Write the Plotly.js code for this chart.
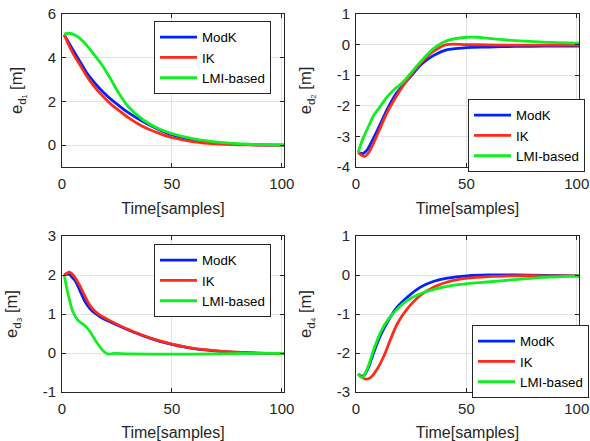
<!DOCTYPE html>
<html>
<head>
<meta charset="utf-8">
<script src="https://cdn.plot.ly/plotly-3.0.1.min.js"></script>
<style>
html,body{margin:0;padding:0;background:#fff;}
#chart{width:590px;height:441px;}
</style>
</head>
<body>
<div id="chart"></div>
<script>
// ---------- data ----------
const seriesNames = ["ModK", "IK", "LMI-based"];

// subplot 1 : e_d1
const t1_modk = [1,3,5,8,11,14,18,22,26,30,37,44,50,60,72,85,101];
const e1_modk = [5.05,4.7,4.35,3.85,3.35,2.95,2.5,2.12,1.8,1.5,1.07,0.72,0.48,0.24,0.08,0.02,0.0];
const t1_ik   = [1,3,5,8,11,14,18,22,26,30,37,44,50,60,72,85,101];
const e1_ik   = [5.05,4.6,4.2,3.7,3.2,2.77,2.3,1.9,1.58,1.27,0.84,0.55,0.35,0.15,0.05,0.01,0.0];
const t1_lmi  = [1,3,5,8,11,14,18,22,26,30,37,44,50,60,72,85,101];
const e1_lmi  = [5.08,5.12,5.08,4.9,4.6,4.22,3.7,3.05,2.35,1.78,1.15,0.75,0.53,0.29,0.13,0.04,0.0];

// subplot 2 : e_d2
const t2_modk = [1,3,5,8,11,14,18,22,26,30,35,41,50,60,72,85,101];
const e2_modk = [-3.52,-3.56,-3.45,-3.05,-2.6,-2.13,-1.62,-1.27,-0.93,-0.62,-0.36,-0.17,-0.1,-0.08,-0.06,-0.05,-0.05];
const t2_ik   = [1,2.5,4,6,8,11,14,18,22,26,30,35,41,50,60,72,85,101];
const e2_ik   = [-3.52,-3.62,-3.65,-3.5,-3.21,-2.72,-2.23,-1.72,-1.27,-0.88,-0.55,-0.22,0.0,0.0,-0.01,-0.02,-0.02,-0.02];
const t2_lmi  = [1,2,3.6,6,8,11,14,18,21,24,29,35,41,50,55,60,72,85,101];
const e2_lmi  = [-3.52,-3.3,-3.0,-2.62,-2.32,-2.02,-1.72,-1.42,-1.25,-1.0,-0.58,-0.14,0.12,0.24,0.24,0.2,0.13,0.08,0.05];

// subplot 3 : e_d3
const t3_modk = [1,3,4.5,6,8,10.5,12.7,15,17.3,21.8,29.4,37,44.5,50,60,72,85,101];
const e3_modk = [2.0,2.02,1.95,1.85,1.62,1.32,1.14,1.02,0.93,0.8,0.61,0.44,0.3,0.22,0.11,0.04,0.0,-0.01];
const t3_ik   = [1,2,3.6,5,6,8,10.5,12.7,15,17.3,21.8,29.4,37,44.5,50,60,72,85,101];
const e3_ik   = [2.0,2.04,2.07,2.0,1.93,1.74,1.45,1.22,1.07,0.97,0.83,0.62,0.45,0.31,0.23,0.12,0.05,0.01,-0.01];
const t3_lmi  = [1,2.8,5,7.4,10.5,12.7,15.8,18.8,21,23.5,30,50,70,85,101];
const e3_lmi  = [2.0,1.5,1.05,0.83,0.7,0.55,0.27,0.05,-0.03,-0.01,-0.02,-0.03,-0.02,-0.01,-0.01];

// subplot 4 : e_d4
const t4_modk = [1,2.9,4,5.9,8.1,11.1,14.2,18.7,23.2,29.2,35.3,41.3,50.4,60,72,85,101];
const e4_modk = [-2.54,-2.6,-2.55,-2.33,-1.98,-1.55,-1.21,-0.82,-0.57,-0.31,-0.16,-0.08,-0.02,0.0,0.0,-0.01,-0.02];
const t4_ik   = [1,2.5,4.4,6.6,9.6,12.7,15.7,18.7,23.2,29.2,35.3,41.3,50.4,60,72,85,101];
const e4_ik   = [-2.54,-2.62,-2.67,-2.63,-2.41,-2.07,-1.64,-1.25,-0.87,-0.52,-0.31,-0.18,-0.08,-0.04,-0.02,-0.02,-0.02];
const t4_lmi  = [1,2.9,5.1,8.1,11.1,14.2,18.7,23.2,29.2,35.3,41.3,50.4,59.4,71.5,85,101];
const e4_lmi  = [-2.54,-2.63,-2.41,-1.9,-1.47,-1.17,-0.87,-0.65,-0.48,-0.37,-0.29,-0.22,-0.18,-0.12,-0.06,-0.02];

// ticks
const xTickVals = [0,50,100];
const xTickText = ["0","50","100"];
const y1TickVals = [0,2,4,6];       const y1TickText = ["0","2","4","6"];
const y2TickVals = [-4,-3,-2,-1,0,1]; const y2TickText = ["-4","-3","-2","-1","0","1"];
const y3TickVals = [-1,0,1,2,3];    const y3TickText = ["-1","0","1","2","3"];
const y4TickVals = [-3,-2,-1,0,1];  const y4TickText = ["-3","-2","-1","0","1"];
const xTitle = "Time[samples]";
const yTitles = ["e<sub>d\u2081</sub> [m]","e<sub>d\u2082</sub> [m]","e<sub>d\u2083</sub> [m]","e<sub>d\u2084</sub> [m]"];

// ---------- styling ----------
const colors = ["#0022ff","#ff2a1a","#11ee22"];
const FONT = "Liberation Sans, Arial, Helvetica, sans-serif";
const TXT = "#262626";

const sets = [
  [[t1_modk,e1_modk],[t1_ik,e1_ik],[t1_lmi,e1_lmi]],
  [[t2_modk,e2_modk],[t2_ik,e2_ik],[t2_lmi,e2_lmi]],
  [[t3_modk,e3_modk],[t3_ik,e3_ik],[t3_lmi,e3_lmi]],
  [[t4_modk,e4_modk],[t4_ik,e4_ik],[t4_lmi,e4_lmi]]
];
const legendIds = ["legend","legend2","legend3","legend4"];
const traces = [];
sets.forEach((s, i) => {
  s.forEach((xy, k) => {
    traces.push({
      x: xy[0], y: xy[1], type: "scatter", mode: "lines",
      name: seriesNames[k],
      line: {color: colors[k], width: 2.8, shape: "spline", smoothing: 0.8},
      xaxis: i === 0 ? "x" : "x" + (i + 1),
      yaxis: i === 0 ? "y" : "y" + (i + 1),
      legend: legendIds[i],
      showlegend: true
    });
  });
});

function xax(dom, anchor) {
  return {
    domain: dom, anchor: anchor, range: [0, 101],
    tickvals: xTickVals, ticktext: xTickText,
    showline: true, mirror: "ticks", linecolor: TXT, linewidth: 1,
    ticks: "inside", ticklen: 4, tickcolor: TXT,
    showgrid: true, gridcolor: "#e3e3e3", gridwidth: 1, zeroline: false,
    tickfont: {family: FONT, size: 15, color: TXT}, ticklabelstandoff: 3,
    title: {text: xTitle, font: {family: FONT, size: 16, color: TXT}, standoff: 11},
    automargin: false
  };
}
function yax(dom, anchor, range, tv, tt, title) {
  return {
    domain: dom, anchor: anchor, range: range,
    tickvals: tv, ticktext: tt,
    showline: true, mirror: "ticks", linecolor: TXT, linewidth: 1,
    ticks: "inside", ticklen: 4, tickcolor: TXT,
    showgrid: true, gridcolor: "#e3e3e3", gridwidth: 1, zeroline: false,
    tickfont: {family: FONT, size: 15, color: TXT}, ticklabelstandoff: 2,
    title: {text: title, font: {family: FONT, size: 16.5, color: TXT}, standoff: 20},
    automargin: false
  };
}
const xL = [62/590, 284/590], xR = [356/590, 579/590];
const yT = [1 - 167/441, 1 - 14/441], yB = [1 - 392/441, 1 - 236/441];

function leg(x, y) {
  return {x: x, y: y, xanchor: "left", yanchor: "top", bgcolor: "#ffffff",
    bordercolor: TXT, borderwidth: 1, font: {family: FONT, size: 13.3, color: "#000"},
    tracegroupgap: 0, itemwidth: 37};
}

const layout = {
  width: 590, height: 441,
  margin: {l: 0, r: 0, t: 0, b: 0, autoexpand: false},
  paper_bgcolor: "#ffffff", plot_bgcolor: "#ffffff",
  font: {family: FONT, color: TXT},
  xaxis: xax(xL, "y"),
  yaxis: yax(yT, "x", [-1, 6], y1TickVals, y1TickText, yTitles[0]),
  xaxis2: xax(xR, "y2"),
  yaxis2: yax(yT, "x2", [-4, 1], y2TickVals, y2TickText, yTitles[1]),
  xaxis3: xax(xL, "y3"),
  yaxis3: yax(yB, "x3", [-1, 3], y3TickVals, y3TickText, yTitles[2]),
  xaxis4: xax(xR, "y4"),
  yaxis4: yax(yB, "x4", [-3, 1], y4TickVals, y4TickText, yTitles[3]),
  legend: leg(154/590, 1 - 21/441),
  legend2: leg(468/590, 1 - 99/441),
  legend3: leg(154/590, 1 - 244/441),
  legend4: leg(472/590, 1 - 325/441),
  showlegend: true
};

Plotly.newPlot("chart", traces, layout, {staticPlot: true, displayModeBar: false});
</script>
</body>
</html>
